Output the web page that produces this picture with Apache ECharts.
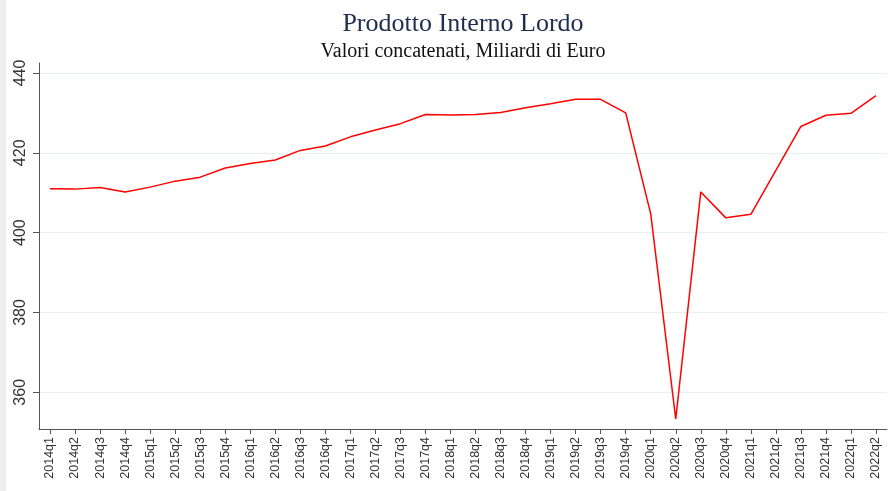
<!DOCTYPE html>
<html>
<head>
<meta charset="utf-8">
<script src="https://cdn.jsdelivr.net/npm/echarts@6/dist/echarts.min.js"></script>
<style>
html,body{margin:0;padding:0;background:#efefef;}
#chart{position:absolute;left:6px;top:0;width:887px;height:491px;background:#ffffff;}
</style>
</head>
<body>
<div id="chart"></div>
<script>
const categories = ["2014q1","2014q2","2014q3","2014q4","2015q1","2015q2","2015q3","2015q4",
"2016q1","2016q2","2016q3","2016q4","2017q1","2017q2","2017q3","2017q4",
"2018q1","2018q2","2018q3","2018q4","2019q1","2019q2","2019q3","2019q4",
"2020q1","2020q2","2020q3","2020q4","2021q1","2021q2","2021q3","2021q4",
"2022q1","2022q2"];
const pil = [411.0,410.9,411.3,410.2,411.4,412.9,413.9,416.2,
417.3,418.2,420.6,421.7,424.0,425.7,427.3,429.6,
429.5,429.6,430.1,431.3,432.3,433.4,433.4,430.0,
404.7,353.3,410.2,403.7,404.6,415.6,426.6,429.4,
429.9,434.3];
const yTicks = [360,380,400,420,440];
const titleText = "Prodotto Interno Lordo";
const subtitleText = "Valori concatenati, Miliardi di Euro";

const xIdx = categories.map((c,i)=>i);
const chart = echarts.init(document.getElementById('chart'), null, {renderer:'canvas'});
chart.setOption({
  animation:false,
  backgroundColor:'#ffffff',
  title:{
    text:titleText,
    subtext:subtitleText,
    left:452, top:6, textAlign:'center',
    itemGap:5,
    textStyle:{fontFamily:'Liberation Serif',fontSize:26,fontWeight:'normal',color:'#1f2d4f'},
    subtextStyle:{fontFamily:'Liberation Serif',fontSize:20,color:'#111111'}
  },
  grid:{left:33,right:6,top:63,bottom:62,containLabel:false},
  xAxis:{
    type:'value',
    min:-0.44, max:33.44,
    axisLine:{show:true,onZero:false,lineStyle:{color:'#555555',width:1}},
    axisTick:{show:true,length:5,customValues:xIdx,lineStyle:{color:'#555555'}},
    axisLabel:{customValues:xIdx,rotate:90,margin:8,fontFamily:'Liberation Sans',fontSize:12.5,color:'#333333',
      formatter:v=>categories[Math.round(v)]},
    splitLine:{show:false}
  },
  yAxis:{
    type:'value',
    min:350.8, max:442.5,
    axisLine:{show:true,onZero:false,lineStyle:{color:'#555555',width:1}},
    axisTick:{show:true,length:6,customValues:yTicks,lineStyle:{color:'#555555'}},
    axisLabel:{customValues:yTicks,rotate:90,margin:10,fontFamily:'Liberation Sans',fontSize:16,color:'#333333'},
    splitLine:{show:true,lineStyle:{color:'#eaf0f0',width:1}}
  },
  series:[{
    type:'line',
    data:pil.map((v,i)=>[i,v]),
    showSymbol:false,
    lineStyle:{color:'#ff0000',width:1.5},
    itemStyle:{color:'#ff0000'}
  }]
});
</script>
</body>
</html>
